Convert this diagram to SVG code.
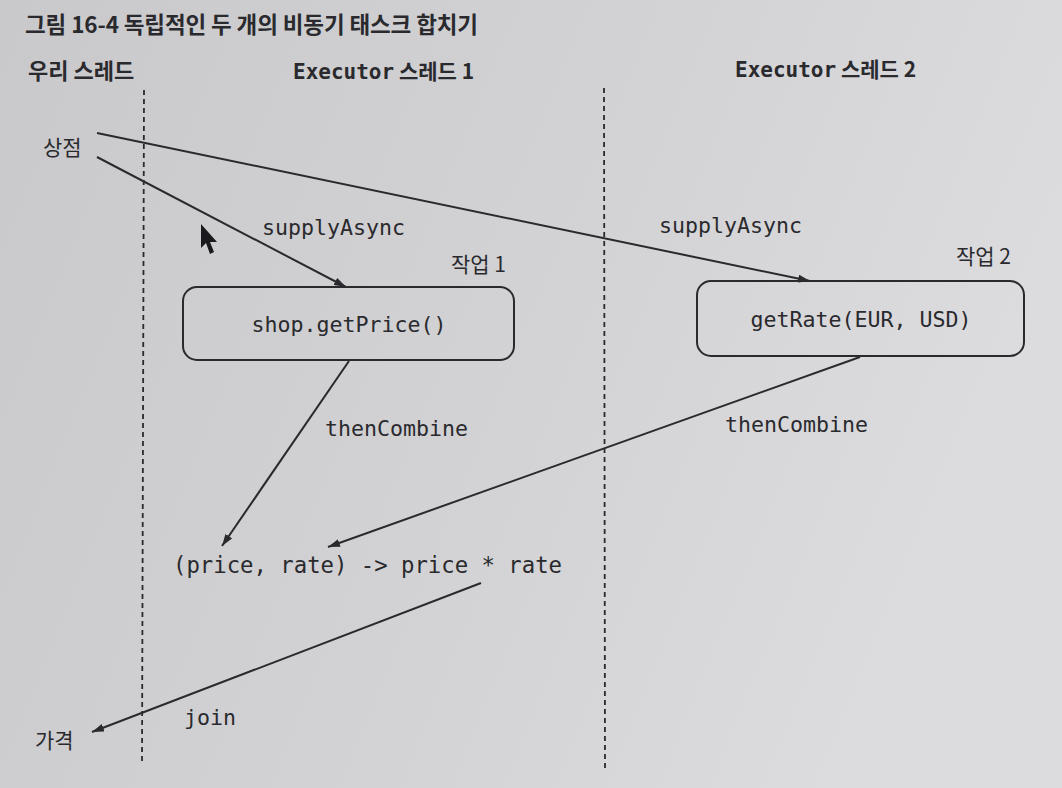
<svg xmlns="http://www.w3.org/2000/svg" width="1062" height="788" viewBox="0 0 1062 788">
<defs>
<linearGradient id="bg" x1="0" y1="0" x2="1" y2="0.3">
<stop offset="0" stop-color="#c9c9cb"/>
<stop offset="0.6" stop-color="#d3d3d5"/>
<stop offset="1" stop-color="#dcdcdf"/>
</linearGradient>
<marker id="ah" viewBox="0 0 12 8" refX="12" refY="4" markerWidth="12" markerHeight="8" markerUnits="userSpaceOnUse" orient="auto">
<path d="M0,0 L12,4 L0,8 Z" fill="#2a2a2e"/>
</marker>
<style>
.kr{font-family:"Noto Sans CJK KR","Noto Sans",sans-serif;fill:#2a2a2e;font-size:21px}
.hd{font-family:"Noto Sans CJK KR","Noto Sans",sans-serif;fill:#2a2a2e;font-weight:bold;font-size:21px}
.mono{font-family:"DejaVu Sans Mono","Liberation Mono",monospace;fill:#2a2a2e;font-size:21.6px}
.lane{stroke:#2a2a2e;stroke-width:1.8;stroke-dasharray:5,4;fill:none}
.conn{stroke:#2a2a2e;stroke-width:2;fill:none;marker-end:url(#ah)}
.box{fill:none;stroke:#2a2a2e;stroke-width:2}
</style>
</defs>
<rect width="1062" height="788" fill="url(#bg)"/>
<g id="title">
<text class="kr" x="25" y="33" style="font-size:22.5px;font-weight:bold" textLength="453">그림 16-4 독립적인 두 개의 비동기 태스크 합치기</text>
</g>
<g id="lanes">
<text class="hd" x="28" y="79" style="font-size:22px">우리 스레드</text>
<text class="hd" x="293" y="79"><tspan font-family="DejaVu Sans Mono,monospace">Executor</tspan> 스레드 1</text>
<text class="hd" x="735" y="77"><tspan font-family="DejaVu Sans Mono,monospace">Executor</tspan> 스레드 2</text>
<line class="lane" x1="144" y1="90" x2="142" y2="765"/>
<line class="lane" x1="604" y1="88" x2="605" y2="770"/>
</g>
<g id="shop">
<text class="kr" x="43" y="155">상점</text>
</g>
<g id="task1">
<rect class="box" x="183" y="287" width="331" height="73" rx="14"/>
<text class="mono" x="349" y="332" text-anchor="middle">shop.getPrice()</text>
<text class="kr" x="451" y="272">작업 1</text>
</g>
<g id="task2">
<rect class="box" x="697" y="281" width="327" height="75" rx="14"/>
<text class="mono" x="861" y="327" text-anchor="middle">getRate(EUR, USD)</text>
<text class="kr" x="956" y="264">작업 2</text>
</g>
<g id="combine">
<text class="mono" x="173" y="573" style="font-size:22.3px" textLength="389">(price, rate) -&gt; price * rate</text>
</g>
<g id="price">
<text class="kr" x="35" y="748">가격</text>
</g>
<g id="connectors">
<line class="conn" x1="97" y1="157" x2="346" y2="287"/>
<line class="conn" x1="97" y1="133" x2="810" y2="281"/>
<line class="conn" x1="349" y1="361" x2="222" y2="546"/>
<line class="conn" x1="860" y1="357" x2="328" y2="547"/>
<line class="conn" x1="481" y1="583" x2="92" y2="732"/>
<text class="mono" x="262" y="235">supplyAsync</text>
<text class="mono" x="659" y="233">supplyAsync</text>
<text class="mono" x="325" y="436">thenCombine</text>
<text class="mono" x="725" y="432">thenCombine</text>
<text class="mono" x="184" y="725">join</text>
</g>
<g id="cursor">
<path d="M201,224 L201,248 L206,243 L210,254 L214,252 L210,242 L217,242 Z" fill="#1a1a1e"/>
</g>
</svg>
